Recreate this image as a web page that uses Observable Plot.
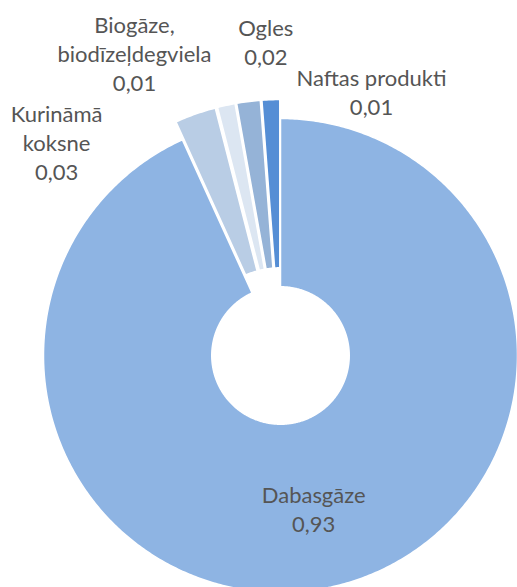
<!DOCTYPE html>
<html><head><meta charset="utf-8">
<script src="https://cdn.jsdelivr.net/npm/d3@7"></script>
<script src="https://cdn.jsdelivr.net/npm/@observablehq/plot@0.6"></script>
<style>html,body{margin:0;padding:0;background:#fff}#chart svg{display:block}</style>
</head><body><div id="chart"></div>
<script>
// ---- data ----
const categories = ["Dabasgāze", "Kurināmā koksne", "Biogāze, biodīzeļdegviela", "Ogles", "Naftas produkti"];
const shares = [0.932, 0.028, 0.012, 0.016, 0.012];
const colors = ["#8EB4E3", "#B9CDE5", "#DCE6F2", "#95B3D7", "#558ED5"];

// ---- layout ----
const W = 517, H = 587, CX = 280, CY = 355, R = 237;
const innerR = 0.29, explode = 0.08;
const explodedSet = new Set(categories.slice(1));
const labelLayout = {
  "Dabasgāze": {polar: true, r: 0.66},
  "Kurināmā koksne": {x: -0.945, y: 0.901, wrap: true},
  "Biogāze, biodīzeļdegviela": {x: -0.616, y: 1.278, wrap: true},
  "Ogles": {x: -0.062, y: 1.327},
  "Naftas produkti": {x: 0.384, y: 1.116}
};

const total = d3.sum(shares);
let acc = 0;
const slices = categories.map((name, i) => {
  const a0 = acc / total * 2 * Math.PI; acc += shares[i];
  const a1 = acc / total * 2 * Math.PI;
  return {name, value: shares[i], a0, a1, mid: (a0 + a1) / 2, off: explodedSet.has(name) ? explode : 0};
});

const pts = [];
for (const s of slices) {
  const ox = s.off * Math.sin(s.mid), oy = s.off * Math.cos(s.mid);
  const n = Math.max(6, Math.ceil((s.a1 - s.a0) / 0.01));
  const ring = [];
  for (let k = 0; k <= n; k++) { const a = s.a0 + (s.a1 - s.a0) * k / n; ring.push([ox + Math.sin(a), oy + Math.cos(a)]); }
  for (let k = n; k >= 0; k--) { const a = s.a0 + (s.a1 - s.a0) * k / n; ring.push([ox + innerR * Math.sin(a), oy + innerR * Math.cos(a)]); }
  ring.push(ring[0]);
  for (const [x, y] of ring) pts.push({name: s.name, x, y});
}

const fmt = v => d3.format(".2f")(v).replace(".", ",");
const labels = slices.map(s => {
  const L = labelLayout[s.name];
  let x, y;
  if (L.polar) { x = s.off * Math.sin(s.mid) + L.r * Math.sin(s.mid); y = s.off * Math.cos(s.mid) + L.r * Math.cos(s.mid); }
  else { x = L.x; y = L.y; }
  const name = L.wrap ? s.name.replace(" ", "\n") : s.name;
  return {x, y, text: name + "\n" + fmt(s.value)};
});

const chart = Plot.plot({
  width: W, height: H, margin: 0,
  x: {domain: [-CX / R, (W - CX) / R], axis: null},
  y: {domain: [-(H - CY) / R, CY / R], axis: null},
  color: {domain: categories, range: colors},
  style: {background: "#fff"},
  marks: [
    Plot.line(pts, {x: "x", y: "y", z: "name", fill: "name", stroke: "#fff", strokeWidth: 1.5, curve: "linear"}),
    Plot.text(labels, {x: "x", y: "y", text: "text", fill: "#555", fontSize: 22, fontFamily: "Lato", lineHeight: 1.32, lineAnchor: "middle", textAnchor: "middle"})
  ]
});
document.getElementById("chart").appendChild(chart);
</script></body></html>
